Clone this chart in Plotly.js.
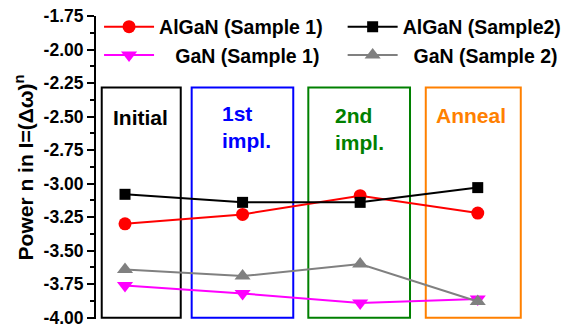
<!DOCTYPE html>
<html>
<head>
<meta charset="utf-8">
<script src="https://cdn.plot.ly/plotly-3.0.1.min.js"></script>
<style>
  html, body { margin: 0; padding: 0; background: #ffffff; }
  #chart { width: 562px; height: 327px; }
</style>
</head>
<body>
<div id="chart"></div>
<script>
// Processing stages (x positions) and the fitted power n for each sample
const stages = ['Initial', '1st impl.', '2nd impl.', 'Anneal'];
const stageLabels = ['Initial', '1st<br>impl.', '2nd<br>impl.', 'Anneal'];
const algan1 = [-3.30, -3.23, -3.09, -3.22];
const algan2 = [-3.08, -3.14, -3.14, -3.03];
const gan1 = [-3.76, -3.82, -3.89, -3.86];
const gan2 = [-3.64, -3.69, -3.60, -3.88];

// Y tick labels (plain hyphen minus)
const yTickVals = [-4.00, -3.75, -3.50, -3.25, -3.00, -2.75, -2.50, -2.25, -2.00, -1.75];
const yTickText = ['-4.00', '-3.75', '-3.50', '-3.25', '-3.00', '-2.75', '-2.50', '-2.25', '-2.00', '-1.75'];

const FONT = 'Liberation Sans, Arial, Helvetica, sans-serif';

function series(name, y, color, symbol, size, legend) {
  return {
    type: 'scatter', mode: 'lines+markers', name: name,
    x: stages, y: y, legend: legend,
    line: { color: color, width: 2 },
    marker: { color: color, symbol: symbol, size: size, line: { width: 0 } },
    cliponaxis: false
  };
}

const traces = [
  series('AlGaN (Sample 1)', algan1, '#ff0000', 'circle', 13, 'legend'),
  series('\u00a0\u00a0\u00a0GaN (Sample 1)', gan1, '#ff00ff', 'triangle-down', 14, 'legend'),
  series('AlGaN (Sample2)', algan2, '#000000', 'square', 11, 'legend2'),
  series('\u00a0\u00a0GaN (Sample 2)', gan2, '#808080', 'triangle-up', 14, 'legend2')
];

// Frames around each processing stage
const boxColors = ['#000000', '#0000ff', '#008000', '#ff8000'];
const boxSpans = [[-0.198, 0.474], [0.567, 1.431], [1.559, 2.424], [2.558, 3.366]];
const shapes = boxSpans.map((s, i) => ({
  type: 'rect', xref: 'x', yref: 'y', layer: 'below',
  x0: s[0], x1: s[1], y0: -4.0, y1: -2.284,
  line: { color: boxColors[i], width: 2 }, fillcolor: 'rgba(0,0,0,0)'
}));

const labelPos = [
  { x: 0.128, y: -2.504, xanchor: 'center' },
  { x: 0.808, y: -2.577, xanchor: 'left' },
  { x: 1.772, y: -2.590, xanchor: 'left' },
  { x: 2.943, y: -2.491, xanchor: 'center' }
];
const annotations = stageLabels.map((t, i) => ({
  xref: 'x', yref: 'y', x: labelPos[i].x, y: labelPos[i].y,
  xanchor: labelPos[i].xanchor, yanchor: 'middle', align: 'left',
  text: t, showarrow: false,
  font: { family: FONT, size: 21, weight: 'bold', color: boxColors[i] }
}));

const legendStyle = {
  orientation: 'v', yanchor: 'top', xanchor: 'left', y: 1.028,
  bgcolor: 'rgba(0,0,0,0)', borderwidth: 0, itemwidth: 50,
  font: { family: FONT, size: 19.5, weight: 'bold', color: '#000000' }
};

const layout = {
  width: 562, height: 327,
  margin: { l: 96, r: 31, t: 16, b: 8, autoexpand: false },
  paper_bgcolor: '#ffffff', plot_bgcolor: '#ffffff',
  font: { family: FONT, size: 17, weight: 'bold', color: '#000000' },
  showlegend: true,
  legend: Object.assign({ x: 0.007 }, legendStyle),
  legend2: Object.assign({ x: 0.567 }, legendStyle),
  xaxis: {
    type: 'category', range: [-0.2467, 3.453],
    showline: false, showticklabels: false, ticks: '', showgrid: false, zeroline: false
  },
  yaxis: {
    range: [-4.01, -1.75],
    tickmode: 'array', tickvals: yTickVals, ticktext: yTickText,
    ticklabeloverflow: 'allow',
    ticks: 'outside', ticklen: 7, tickwidth: 2, tickcolor: '#000000',
    minor: { tickmode: 'linear', tick0: -4, dtick: 0.125, ticks: 'outside', ticklen: 4, tickwidth: 2, tickcolor: '#000000', showgrid: false },
    showline: true, linewidth: 2, linecolor: '#000000',
    showgrid: false, zeroline: false,
    tickfont: { family: FONT, size: 17.5, weight: 'bold', color: '#000000' },
    title: {
      text: 'Power n in I=(\u0394\u03c9)<sup>n</sup>',
      standoff: 4,
      font: { family: FONT, size: 21, weight: 'bold', color: '#000000' }
    }
  },
  shapes: shapes,
  annotations: annotations
};

Plotly.newPlot('chart', traces, layout, { displayModeBar: false, staticPlot: true });
</script>
</body>
</html>
